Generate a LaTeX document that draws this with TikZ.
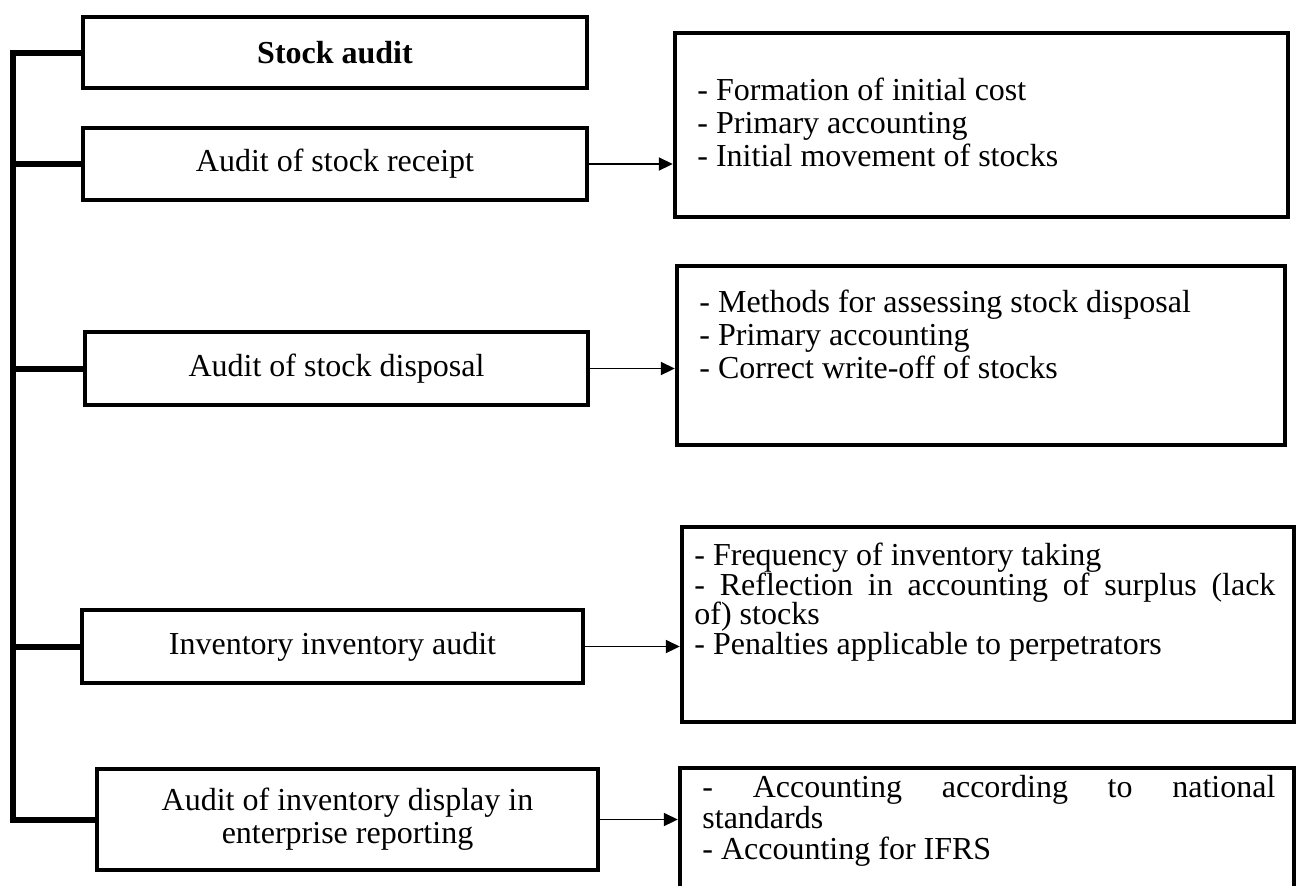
\documentclass[tikz,border=0pt]{standalone}
\usepackage{fontspec}
\setmainfont{Liberation Serif}
\usetikzlibrary{arrows.meta,calc}
\tikzset{
  auditbox/.style={draw,line width=2.2pt,align=center,inner sep=0pt,
    font=\fontsize{16}{16.5}\selectfont},
  notebox/.style={draw,line width=2.2pt,inner sep=0pt},
  notetext/.style={anchor=north west,inner sep=0pt,align=left,
    font=\fontsize{16}{16.5}\selectfont},
  spine/.style={line width=3pt},
  spineshade/.style={line width=3pt,black!22,shift={(1.5,1.5)}},
  link/.style={line width=0.9pt,-{Triangle[length=7pt,width=6.5pt]}}
}

\begin{document}
\begin{tikzpicture}[x=0.5pt,y=-0.5pt]
  \useasboundingbox (0,0) rectangle (1304,885);
  \clip (0,0) rectangle (1304,885);
  % left column
  \node[auditbox,minimum width=252pt,minimum height=35.5pt] (stock) at (335,52.5) {\textbf{Stock audit}};
  \node[auditbox,minimum width=252pt,minimum height=36pt] (receipt) at (335,164) {Audit of stock receipt};
  \node[auditbox,minimum width=251.5pt,minimum height=36.5pt] (disposal) at (336.5,368.5) {Audit of stock disposal};
  \node[auditbox,minimum width=250.5pt,minimum height=36.5pt] (invent) at (332.5,646.5) {Inventory inventory audit};
  \node[auditbox,minimum width=250.5pt,minimum height=50.5pt] (display) at (347.5,819.5) {Audit of inventory display in\\enterprise reporting};
  % bracket
  \coordinate (spinex) at (13,0);
  \begin{scope}[on background layer/.try]
    \draw[spineshade] (stock.west) -- (stock.west -| spinex) -- (display.west -| spinex) -- (display.west);
    \foreach \b in {receipt,disposal,invent}
      \draw[spineshade] (\b.west) -- (\b.west -| spinex);
  \end{scope}
  \draw[spine] (stock.west) -- (stock.west -| spinex) -- (display.west -| spinex) -- (display.west);
  \foreach \b in {receipt,disposal,invent}
    \draw[spine] (\b.west) -- (\b.west -| spinex);
  % right column
  \node[notebox,minimum width=306.5pt,minimum height=92pt] (cost) at (981.5,125) {};
  \node[notetext] (costtxt) at (697,78) {- Formation of initial cost\\- Primary accounting\\- Initial movement of stocks};
  \node[notebox,minimum width=304pt,minimum height=89.5pt] (assess) at (981,355.5) {};
  \node[notetext] (assesstxt) at (699,290) {- Methods for assessing stock disposal\\- Primary accounting\\- Correct write-off of stocks};
  \node[notebox,minimum width=306pt,minimum height=97.5pt] (taking) at (988,624.5) {};
  \node[notetext,text width=290.5pt,align=justify,font=\fontsize{16}{14.75}\selectfont] (takingtxt) at (694,543)
    {- Frequency of inventory taking\\- Reflection in accounting of surplus (lack\linebreak of) stocks\\- Penalties applicable to perpetrators};
  \node[notebox,minimum width=307pt,minimum height=76pt] (ifrs) at (987,844) {};
  \node[notetext,text width=286.5pt,align=justify,font=\fontsize{16}{15.5}\selectfont] (ifrstxt) at (702,775)
    {- Accounting according to national\linebreak standards\\- Accounting for IFRS};
  % arrows
  \draw[link] (receipt.east) -- (receipt.east -| cost.west);
  \draw[link] (disposal.east) -- (disposal.east -| assess.west);
  \draw[link] (invent.east) -- (invent.east -| taking.west);
  \draw[link] ([xshift=-2pt]display.east) -- (display.east -| ifrs.west);
\end{tikzpicture}
\end{document}
